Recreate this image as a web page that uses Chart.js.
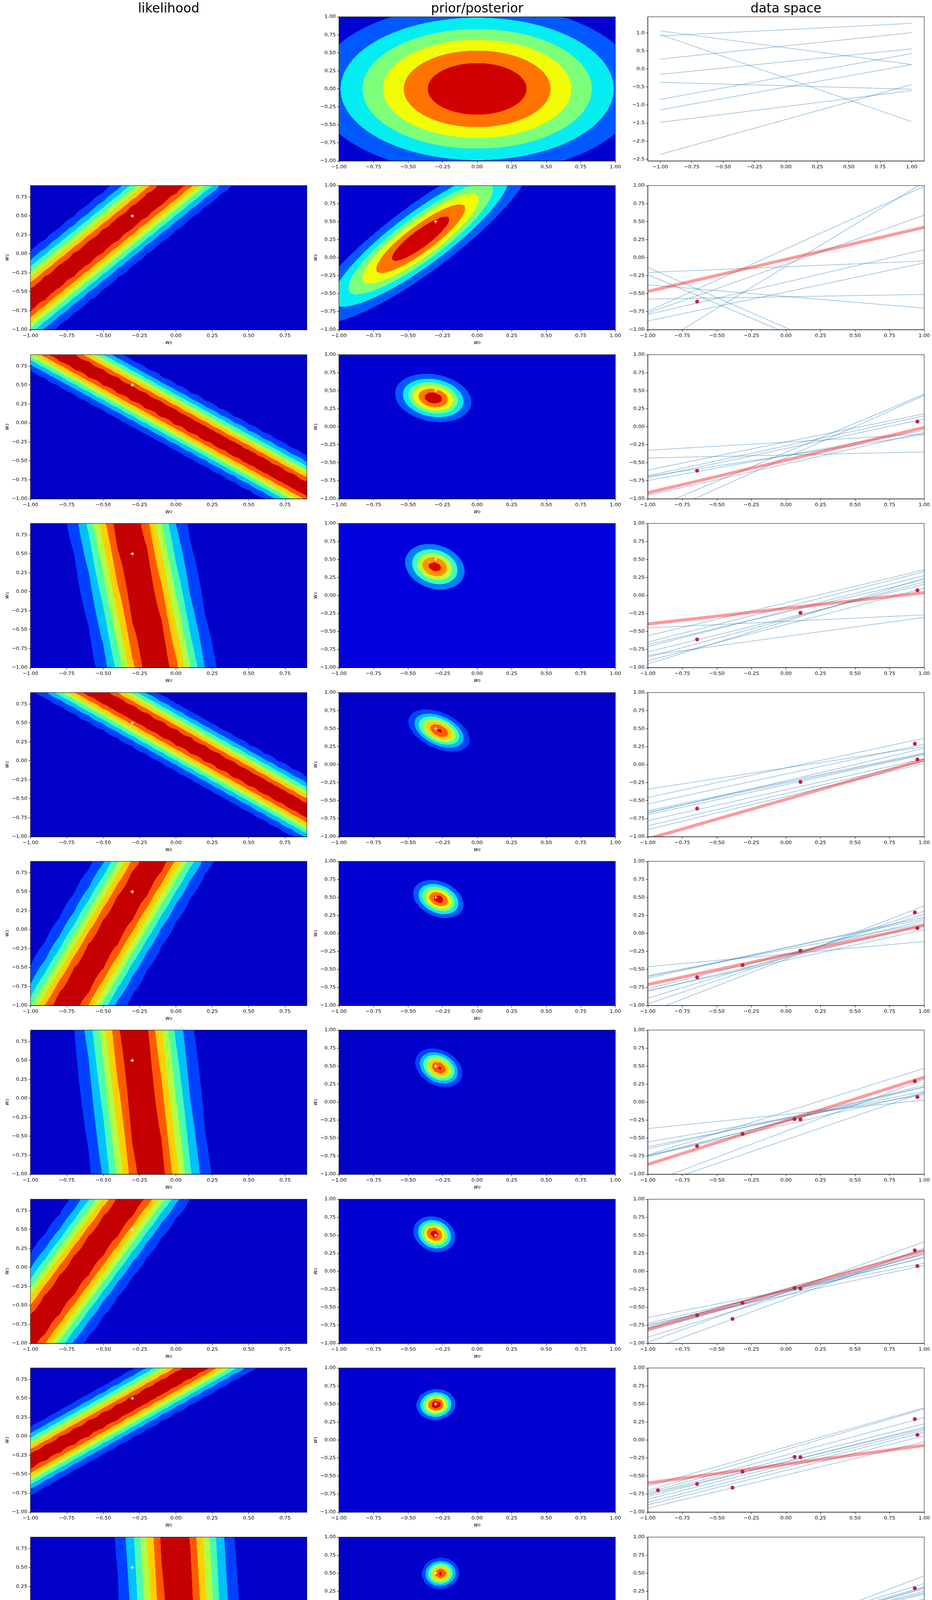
<!DOCTYPE html>
<html>
<head>
<meta charset="utf-8">
<script src="https://cdn.jsdelivr.net/npm/chart.js@4.4.1/dist/chart.umd.min.js"></script>
<style>
  html, body { margin: 0; background: #fff; }
  body { width: 2387px; height: 4787px; position: relative; overflow: hidden; }
  canvas { position: absolute; }
</style>
</head>
<body>
<script>
// --- model settings (prior precision, noise precision, true weights) ---
const ALPHA = 2.0;
const BETA = 25.0;
const TRUE_W = [-0.3, 0.5];

// observations in the order they arrive (row 2 gets the first one)
const obsX = [-0.643, 0.951, 0.105, 0.932, -0.314, 0.062, -0.387, -0.926, 0.030, -0.727];
const obsT = [-0.610, 0.072, -0.240, 0.290, -0.440, -0.235, -0.661, -0.697, 0.020, -0.637];

// ticks
const wTicks = [-1, -0.75, -0.5, -0.25, 0, 0.25, 0.5, 0.75, 1];
const topDataTicks = [-2.5, -2, -1.5, -1, -0.5, 0, 0.5, 1];

// grids the surfaces were sampled on
const likeGrid = Array.from({length: 20}, (_, k) => -1 + 0.1 * k);      // -1 .. 0.9
const postGrid = Array.from({length: 50}, (_, k) => -1 + 2 * k / 49);   // -1 .. 1
// step sizes allowed for the automatic contour levels
const levelSteps = [1, 1.5, 2, 2.5, 3, 4, 5, 6, 8, 10];

// sampled lines in data space: [y at x=-1, y at x=1]
const lineX = [-1, 1];
const samples1 = [[0.92, 1.27], [1.06, 0.126], [0.957, -1.46], [0.278, 1.01], [-0.145, 0.56],
  [-0.369, -0.56], [-0.842, 0.433], [-1.13, 0.126], [-1.48, -0.6], [-2.37, -0.43]];
const samples2 = [[-0.206, -0.047], [-0.137, -1.81], [-0.236, -1.85], [-0.377, -0.70], [-0.576, -0.511],
  [-0.747, 0.99], [-0.77, 0.588], [-0.79, 0.11], [-0.88, -0.074], [-1.29, 1.047]];
const samples3 = [[-0.327, -0.10], [-0.434, -0.35], [-0.602, 0.181], [-0.681, 0.152], [-0.69, -0.11],
  [-0.71, 0.109], [-0.747, -0.051], [-0.951, -0.08], [-1.16, 0.451], [-1.29, 0.434]];
const samples4 = [[-0.448, -0.268], [-0.559, 0.356], [-0.646, 0.33], [-0.681, 0.219], [-0.71, 0.277],
  [-0.782, 0.155], [-0.832, -0.303], [-0.855, 0.19], [-0.907, 0.10], [-0.95, 0.24]];
const samples5 = [[-0.34, 0.25], [-0.456, 0.366], [-0.544, 0.285], [-0.64, 0.163], [-0.674, 0.227],
  [-0.695, 0.14], [-0.776, 0.081], [-0.849, 0.047], [-0.90, 0.017], [-0.66, 0.15]];
const samples6 = [[-0.462, -0.113], [-0.587, 0.14], [-0.622, 0.227], [-0.767, 0.177], [-0.797, 0.052],
  [-0.898, 0.265], [-0.977, 0.31], [-1.097, 0.381], [-0.60, 0.20], [-0.80, 0.12]];
const samples7 = [[-0.367, 0.028], [-0.553, 0.106], [-0.646, 0.21], [-0.733, 0.469], [-0.756, 0.237],
  [-1.124, 0.318], [-1.18, 0.135], [-0.62, 0.15], [-0.74, 0.21], [-0.75, 0.13]];
const samples8 = [[-0.642, 0.113], [-0.724, 0.186], [-0.744, 0.081], [-0.782, 0.294], [-0.831, 0.25],
  [-0.913, 0.25], [-0.985, 0.41], [-1.098, 0.323], [-0.76, 0.23], [-0.80, 0.20]];
const samples9 = [[-0.64, 0.448], [-0.70, 0.434], [-0.727, 0.312], [-0.747, 0.225], [-0.785, 0.179],
  [-0.82, 0.138], [-0.866, 0.109], [-0.90, 0.057], [-0.945, -0.025], [-0.76, 0.16]];
const samples10 = [[-0.515, 0.138], [-0.66, 0.115], [-0.689, 0.225], [-0.733, 0.283], [-0.762, 0.21],
  [-0.791, 0.312], [-0.82, 0.356], [-0.872, 0.30], [-0.994, 0.463], [-0.75, 0.25]];
const samples11 = [[-0.599, 0.029], [-0.617, 0.014], [-0.639, 0.116], [-0.666, 0.074], [-0.697, 0.20],
  [-0.72, 0.345], [-0.747, 0.35], [-0.774, 0.236], [-0.888, 0.236], [-0.70, 0.15]];
// highlighted (red) line per row, none in the first row
const redLines = [null, [-0.47, 0.42], [-0.916, -0.010], [-0.396, 0.039], [-1.03, 0.067], [-0.709, 0.110],
  [-0.864, 0.347], [-0.805, 0.285], [-0.597, -0.074], [-0.768, 0.065], [-0.933, 0.137]];

const sampleSets = [samples1, samples2, samples3, samples4, samples5, samples6,
  samples7, samples8, samples9, samples10, samples11];

// --- layout ---
const ROWS = 11;
const ROW_TOP0 = 43, ROW_STEP = 432.4;
const PLOT_W = 708, PLOT_H = 369;
const COL_LEFT = [78, 868, 1659];
const Y_AXIS_W = 72, X_AXIS_H = 46, PAD_TOP = 12, PAD_RIGHT = 24;
const rowTop = r => Math.round(ROW_TOP0 + r * ROW_STEP);

Chart.defaults.font.family = 'DejaVu Sans';
Chart.defaults.color = '#000';

// matplotlib 'jet'
const JET = {
  r: [[0, 0], [0.35, 0], [0.66, 1], [0.89, 1], [1, 0.5]],
  g: [[0, 0], [0.125, 0], [0.375, 1], [0.64, 1], [0.91, 0], [1, 0]],
  b: [[0, 0.5], [0.11, 1], [0.34, 1], [0.65, 0], [1, 0]]
};
function seg(pts, v) {
  for (let i = 1; i < pts.length; i++) {
    if (v <= pts[i][0]) {
      const [x0, y0] = pts[i - 1], [x1, y1] = pts[i];
      return y0 + (y1 - y0) * (v - x0) / (x1 - x0);
    }
  }
  return pts[pts.length - 1][1];
}
function jet(v) {
  const idx = Math.min(255, Math.floor(v * 256));
  const u = idx / 255;
  return [seg(JET.r, u), seg(JET.g, u), seg(JET.b, u)].map(c => Math.round(c * 255));
}

// automatic filled-contour levels, about 8 bins with a round step
function contourLevels(zmin, zmax, nbins = 8) {
  const raw = (zmax - zmin) / nbins;
  const scale = Math.pow(10, Math.floor(Math.log10(raw)));
  const step = levelSteps.map(s => s * scale).find(s => s >= raw * (1 - 1e-10));
  const lo = Math.floor(zmin / step + 1e-10) * step;
  const n = Math.ceil((zmax - lo) / step - 1e-10);
  return Array.from({length: n + 1}, (_, k) => lo + k * step);
}

function gaussSurface(gx, gy, mean, prec, peak) {
  return gy.map(b => gx.map(a => {
    const d0 = a - mean[0], d1 = b - mean[1];
    return peak * Math.exp(-0.5 * (prec[0][0] * d0 * d0 + 2 * prec[0][1] * d0 * d1 + prec[1][1] * d1 * d1));
  }));
}
function likeSurface(gx, gy, x, t) {
  const peak = Math.sqrt(BETA / (2 * Math.PI));
  return gy.map(b => gx.map(a => {
    const r = t - a - b * x;
    return peak * Math.exp(-0.5 * BETA * r * r);
  }));
}
function posterior(n) {
  const P = [[ALPHA, 0], [0, ALPHA]];
  const rhs = [0, 0];
  for (let k = 0; k < n; k++) {
    const x = obsX[k], t = obsT[k];
    P[0][0] += BETA; P[0][1] += BETA * x; P[1][0] += BETA * x; P[1][1] += BETA * x * x;
    rhs[0] += BETA * t; rhs[1] += BETA * t * x;
  }
  const det = P[0][0] * P[1][1] - P[0][1] * P[1][0];
  const mean = [(P[1][1] * rhs[0] - P[0][1] * rhs[1]) / det, (-P[1][0] * rhs[0] + P[0][0] * rhs[1]) / det];
  return {mean, prec: P, peak: Math.sqrt(det) / (2 * Math.PI)};
}
function makeSurface(gx, gy, z) {
  let zmin = Infinity, zmax = -Infinity;
  z.forEach(row => row.forEach(v => { zmin = Math.min(zmin, v); zmax = Math.max(zmax, v); }));
  const levels = contourLevels(zmin, zmax);
  const nb = levels.length - 1;
  const colors = Array.from({length: nb}, (_, i) => jet((i + 0.5) / nb));
  return {gx, gy, z, levels, colors};
}

const surfaces = new Map();

const surfacePlugin = {
  id: 'surface',
  beforeDatasetsDraw(chart) {
    const surf = surfaces.get(chart.canvas.id);
    if (!surf) return;
    const area = chart.chartArea;
    const dpr = chart.currentDevicePixelRatio || 1;
    const W = Math.round(area.width * dpr), H = Math.round(area.height * dpr);
    const off = document.createElement('canvas');
    off.width = W; off.height = H;
    const octx = off.getContext('2d');
    const img = octx.createImageData(W, H);
    const xs = chart.scales.x, ys = chart.scales.y;
    const {gx, gy, z, levels, colors} = surf;
    const dx = gx[1] - gx[0], dy = gy[1] - gy[0];
    const ci = new Int32Array(W), cf = new Float64Array(W);
    for (let p = 0; p < W; p++) {
      const f = (xs.getValueForPixel(area.left + (p + 0.5) / dpr) - gx[0]) / dx;
      const i = Math.min(gx.length - 2, Math.max(0, Math.floor(f)));
      ci[p] = i; cf[p] = Math.min(1, Math.max(0, f - i));
    }
    const nb = colors.length;
    for (let q = 0; q < H; q++) {
      const f = (ys.getValueForPixel(area.top + (q + 0.5) / dpr) - gy[0]) / dy;
      const j = Math.min(gy.length - 2, Math.max(0, Math.floor(f)));
      const fy = Math.min(1, Math.max(0, f - j));
      const r0 = z[j], r1 = z[j + 1];
      for (let p = 0; p < W; p++) {
        const i = ci[p], fx = cf[p];
        const v = (1 - fy) * ((1 - fx) * r0[i] + fx * r0[i + 1]) + fy * ((1 - fx) * r1[i] + fx * r1[i + 1]);
        let b = 0;
        while (b < nb - 1 && v > levels[b + 1]) b++;
        const c = colors[b], o = (q * W + p) * 4;
        img.data[o] = c[0]; img.data[o + 1] = c[1]; img.data[o + 2] = c[2]; img.data[o + 3] = 255;
      }
    }
    octx.putImageData(img, 0, 0);
    chart.ctx.drawImage(off, area.left, area.top, area.width, area.height);
  }
};

const framePlugin = {
  id: 'frame',
  afterDatasetsDraw(chart, args, opts) {
    if (!opts.show) return;
    const {left, top, width, height} = chart.chartArea;
    const ctx = chart.ctx;
    ctx.save();
    ctx.strokeStyle = '#000';
    ctx.lineWidth = 1;
    ctx.strokeRect(left, top, width, height);
    ctx.restore();
  }
};
Chart.register(surfacePlugin, framePlugin);

const fmt = (v, digits) => (v < 0 ? '\u2212' : '') + Math.abs(v).toFixed(digits);

function axis(min, max, ticks, digits, label, isX) {
  return {
    type: 'linear', min, max,
    afterBuildTicks: s => { s.ticks = ticks.filter(v => v >= min - 1e-9 && v <= max + 1e-9).map(v => ({value: v})); },
    afterFit: s => { if (isX) s.height = X_AXIS_H; else s.width = Y_AXIS_W; },
    ticks: {callback: v => fmt(v, digits), color: '#000', font: {size: 13}, padding: 3,
      autoSkip: false, maxRotation: 0, minRotation: 0},
    grid: {display: true, drawOnChartArea: false, drawTicks: true, tickLength: 5, color: '#000', lineWidth: 1},
    border: {display: true, color: '#000', width: 1},
    title: label
      ? {display: true, text: label, color: '#000', font: {size: 14, style: 'italic'}, padding: {top: 4, bottom: 4}}
      : {display: false}
  };
}

function makeCanvas(r, c) {
  const cv = document.createElement('canvas');
  const left = COL_LEFT[c] - Y_AXIS_W;
  const top = r === 0 ? 0 : rowTop(r) - PAD_TOP;
  const w = Y_AXIS_W + PLOT_W + PAD_RIGHT;
  const h = (r === 0 ? ROW_TOP0 : PAD_TOP) + PLOT_H + X_AXIS_H;
  cv.width = w; cv.height = h;
  cv.style.left = left + 'px'; cv.style.top = top + 'px';
  cv.style.width = w + 'px'; cv.style.height = h + 'px';
  cv.id = 'cell-' + r + '-' + c;
  document.body.appendChild(cv);
  return cv;
}

function titleOpts(r, text) {
  if (r !== 0) return {display: false};
  return {display: true, text, fullSize: false, color: '#000',
    font: {size: 33, weight: 'normal'}, padding: {top: ROW_TOP0 - 39.6, bottom: 0}};
}

function baseOptions(r, title, scales) {
  return {
    animation: false, responsive: false, events: [],
    layout: {padding: {top: r === 0 ? 0 : PAD_TOP, right: PAD_RIGHT, left: 0, bottom: 0}},
    plugins: {legend: {display: false}, tooltip: {enabled: false}, title: titleOpts(r, title), frame: {show: true}},
    scales
  };
}

const crossSet = () => ({
  data: [{x: TRUE_W[0], y: TRUE_W[1]}], pointStyle: 'cross', pointRadius: 4.5,
  borderColor: '#ffffff', backgroundColor: '#ffffff', pointBorderWidth: 2, borderWidth: 2
});

// --- build the grid of panels ---
for (let r = 0; r < ROWS; r++) {
  // likelihood column
  const cvL = makeCanvas(r, 0);
  if (r === 0) {
    new Chart(cvL, {
      type: 'scatter', data: {datasets: []},
      options: {
        animation: false, responsive: false, events: [],
        layout: {padding: {top: 0, left: Y_AXIS_W, right: PAD_RIGHT, bottom: 0}},
        plugins: {legend: {display: false}, tooltip: {enabled: false}, title: titleOpts(0, 'likelihood'), frame: {show: false}},
        scales: {x: {display: false}, y: {display: false}}
      }
    });
  } else {
    surfaces.set(cvL.id, makeSurface(likeGrid, likeGrid, likeSurface(likeGrid, likeGrid, obsX[r - 1], obsT[r - 1])));
    new Chart(cvL, {
      type: 'scatter', data: {datasets: [crossSet()]},
      options: baseOptions(r, '', {
        x: axis(likeGrid[0], likeGrid[likeGrid.length - 1], wTicks, 2, 'w\u2080', true),
        y: axis(likeGrid[0], likeGrid[likeGrid.length - 1], wTicks, 2, 'w\u2081', false)
      })
    });
  }

  // prior / posterior column
  const cvP = makeCanvas(r, 1);
  let z;
  if (r === 0) {
    z = gaussSurface(postGrid, postGrid, [0, 0], [[ALPHA, 0], [0, ALPHA]], ALPHA / (2 * Math.PI));
  } else {
    const post = posterior(r);
    z = gaussSurface(postGrid, postGrid, post.mean, post.prec, post.peak);
  }
  surfaces.set(cvP.id, makeSurface(postGrid, postGrid, z));
  new Chart(cvP, {
    type: 'scatter', data: {datasets: [crossSet()]},
    options: baseOptions(r, 'prior/posterior', {
      x: axis(-1, 1, wTicks, 2, r === 0 ? '' : 'w\u2080', true),
      y: axis(-1, 1, wTicks, 2, r === 0 ? '' : 'w\u2081', false)
    })
  });

  // data space column
  const cvD = makeCanvas(r, 2);
  const lines = sampleSets[r];
  const datasets = lines.map(l => ({
    data: [{x: lineX[0], y: l[0]}, {x: lineX[1], y: l[1]}], showLine: true,
    borderColor: 'rgba(31,119,180,0.4)', borderWidth: 2, pointRadius: 0, order: 1
  }));
  if (redLines[r]) {
    datasets.push({
      data: [{x: lineX[0], y: redLines[r][0]}, {x: lineX[1], y: redLines[r][1]}], showLine: true,
      borderColor: 'rgba(255,0,0,0.4)', borderWidth: 8, pointRadius: 0, order: 0
    });
  }
  if (r > 0) {
    datasets.push({
      data: obsX.slice(0, r).map((x, k) => ({x, y: obsT[k]})),
      pointRadius: 5, backgroundColor: '#dc143c', borderColor: '#dc143c', borderWidth: 0, order: 2, clip: false
    });
  }
  let xs, ys;
  if (r === 0) {
    const all = lines.flat();
    const lo = Math.min(...all), hi = Math.max(...all), pad = 0.05 * (hi - lo);
    const xpad = 0.05 * (lineX[1] - lineX[0]);
    xs = axis(lineX[0] - xpad, lineX[1] + xpad, wTicks, 2, '', true);
    ys = axis(lo - pad, hi + pad, topDataTicks, 1, '', false);
  } else {
    xs = axis(-1, 1, wTicks, 2, '', true);
    ys = axis(-1, 1, wTicks, 2, '', false);
  }
  new Chart(cvD, {type: 'scatter', data: {datasets}, options: baseOptions(r, 'data space', {x: xs, y: ys})});
}
</script>
</body>
</html>
